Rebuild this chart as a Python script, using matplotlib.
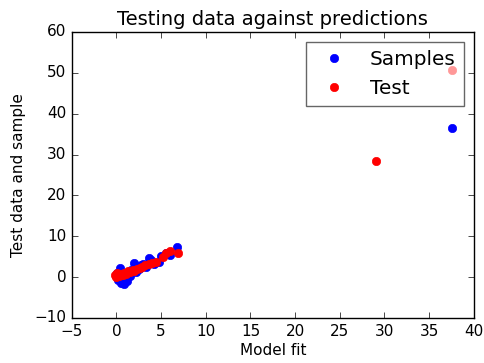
import matplotlib
matplotlib.use('Agg')
import matplotlib.pyplot as plt

plt.style.use('classic')
plt.rcParams['xtick.labelsize'] = 11
plt.rcParams['ytick.labelsize'] = 11
plt.rcParams['axes.labelsize'] = 11

# model fit (x) vs observed value (y)
sample_x = [0.0, 0.2, 0.1, 0.4, 0.5, 0.9, 1.2, 1.0, 1.5, 1.6, 2.0, 2.2, 2.5, 2.8,
            3.0, 3.3, 3.6, 3.9, 4.2, 4.8, 5.0, 5.5, 6.0, 6.8, 37.6]
sample_y = [0.5, -0.8, 1.0, 2.3, -1.5, -1.8, -1.0, 0.8, 0.3, 1.8, 3.5, 1.2, 2.0, 3.0,
            3.2, 2.5, 4.6, 4.2, 3.3, 3.6, 5.2, 5.8, 5.4, 7.3, 36.5]

test_x = [-0.2, 0.0, 0.1, 0.3, 0.5, 0.7, 0.9, 1.1, 1.3, 1.5, 1.8, 2.0, 2.3, 2.6,
          2.9, 3.2, 3.6, 4.0, 4.4, 5.2, 5.6, 6.0, 6.9, 29.1, 37.6]
test_y = [0.4, 0.0, 0.9, 0.2, 0.8, 0.5, 1.1, 0.7, 1.4, 1.2, 1.7, 1.6, 2.1, 2.3,
          2.6, 2.9, 3.1, 3.5, 3.8, 5.0, 6.0, 6.3, 5.8, 28.4, 50.8]

fig = plt.figure(figsize=(4.85, 3.63), dpi=100)
fig.patch.set_facecolor('white')
ax = fig.add_axes([0.148, 0.124, 0.829, 0.788])

ax.plot(sample_x, sample_y, 'o', color='b', mec='b', ms=6, label='Samples')
ax.plot(test_x, test_y, 'o', color='r', mec='r', ms=6, label='Test')

ax.set_xlim(-5, 40)
ax.set_ylim(-10, 60)
ax.set_title('Testing data against predictions', fontsize=14)
ax.set_xlabel('Model fit', labelpad=3)
ax.set_ylabel('Test data and sample', labelpad=6)
ax.legend(loc='upper right', numpoints=1, framealpha=0.6)

fig.savefig('out.png', dpi=100, facecolor='white')
